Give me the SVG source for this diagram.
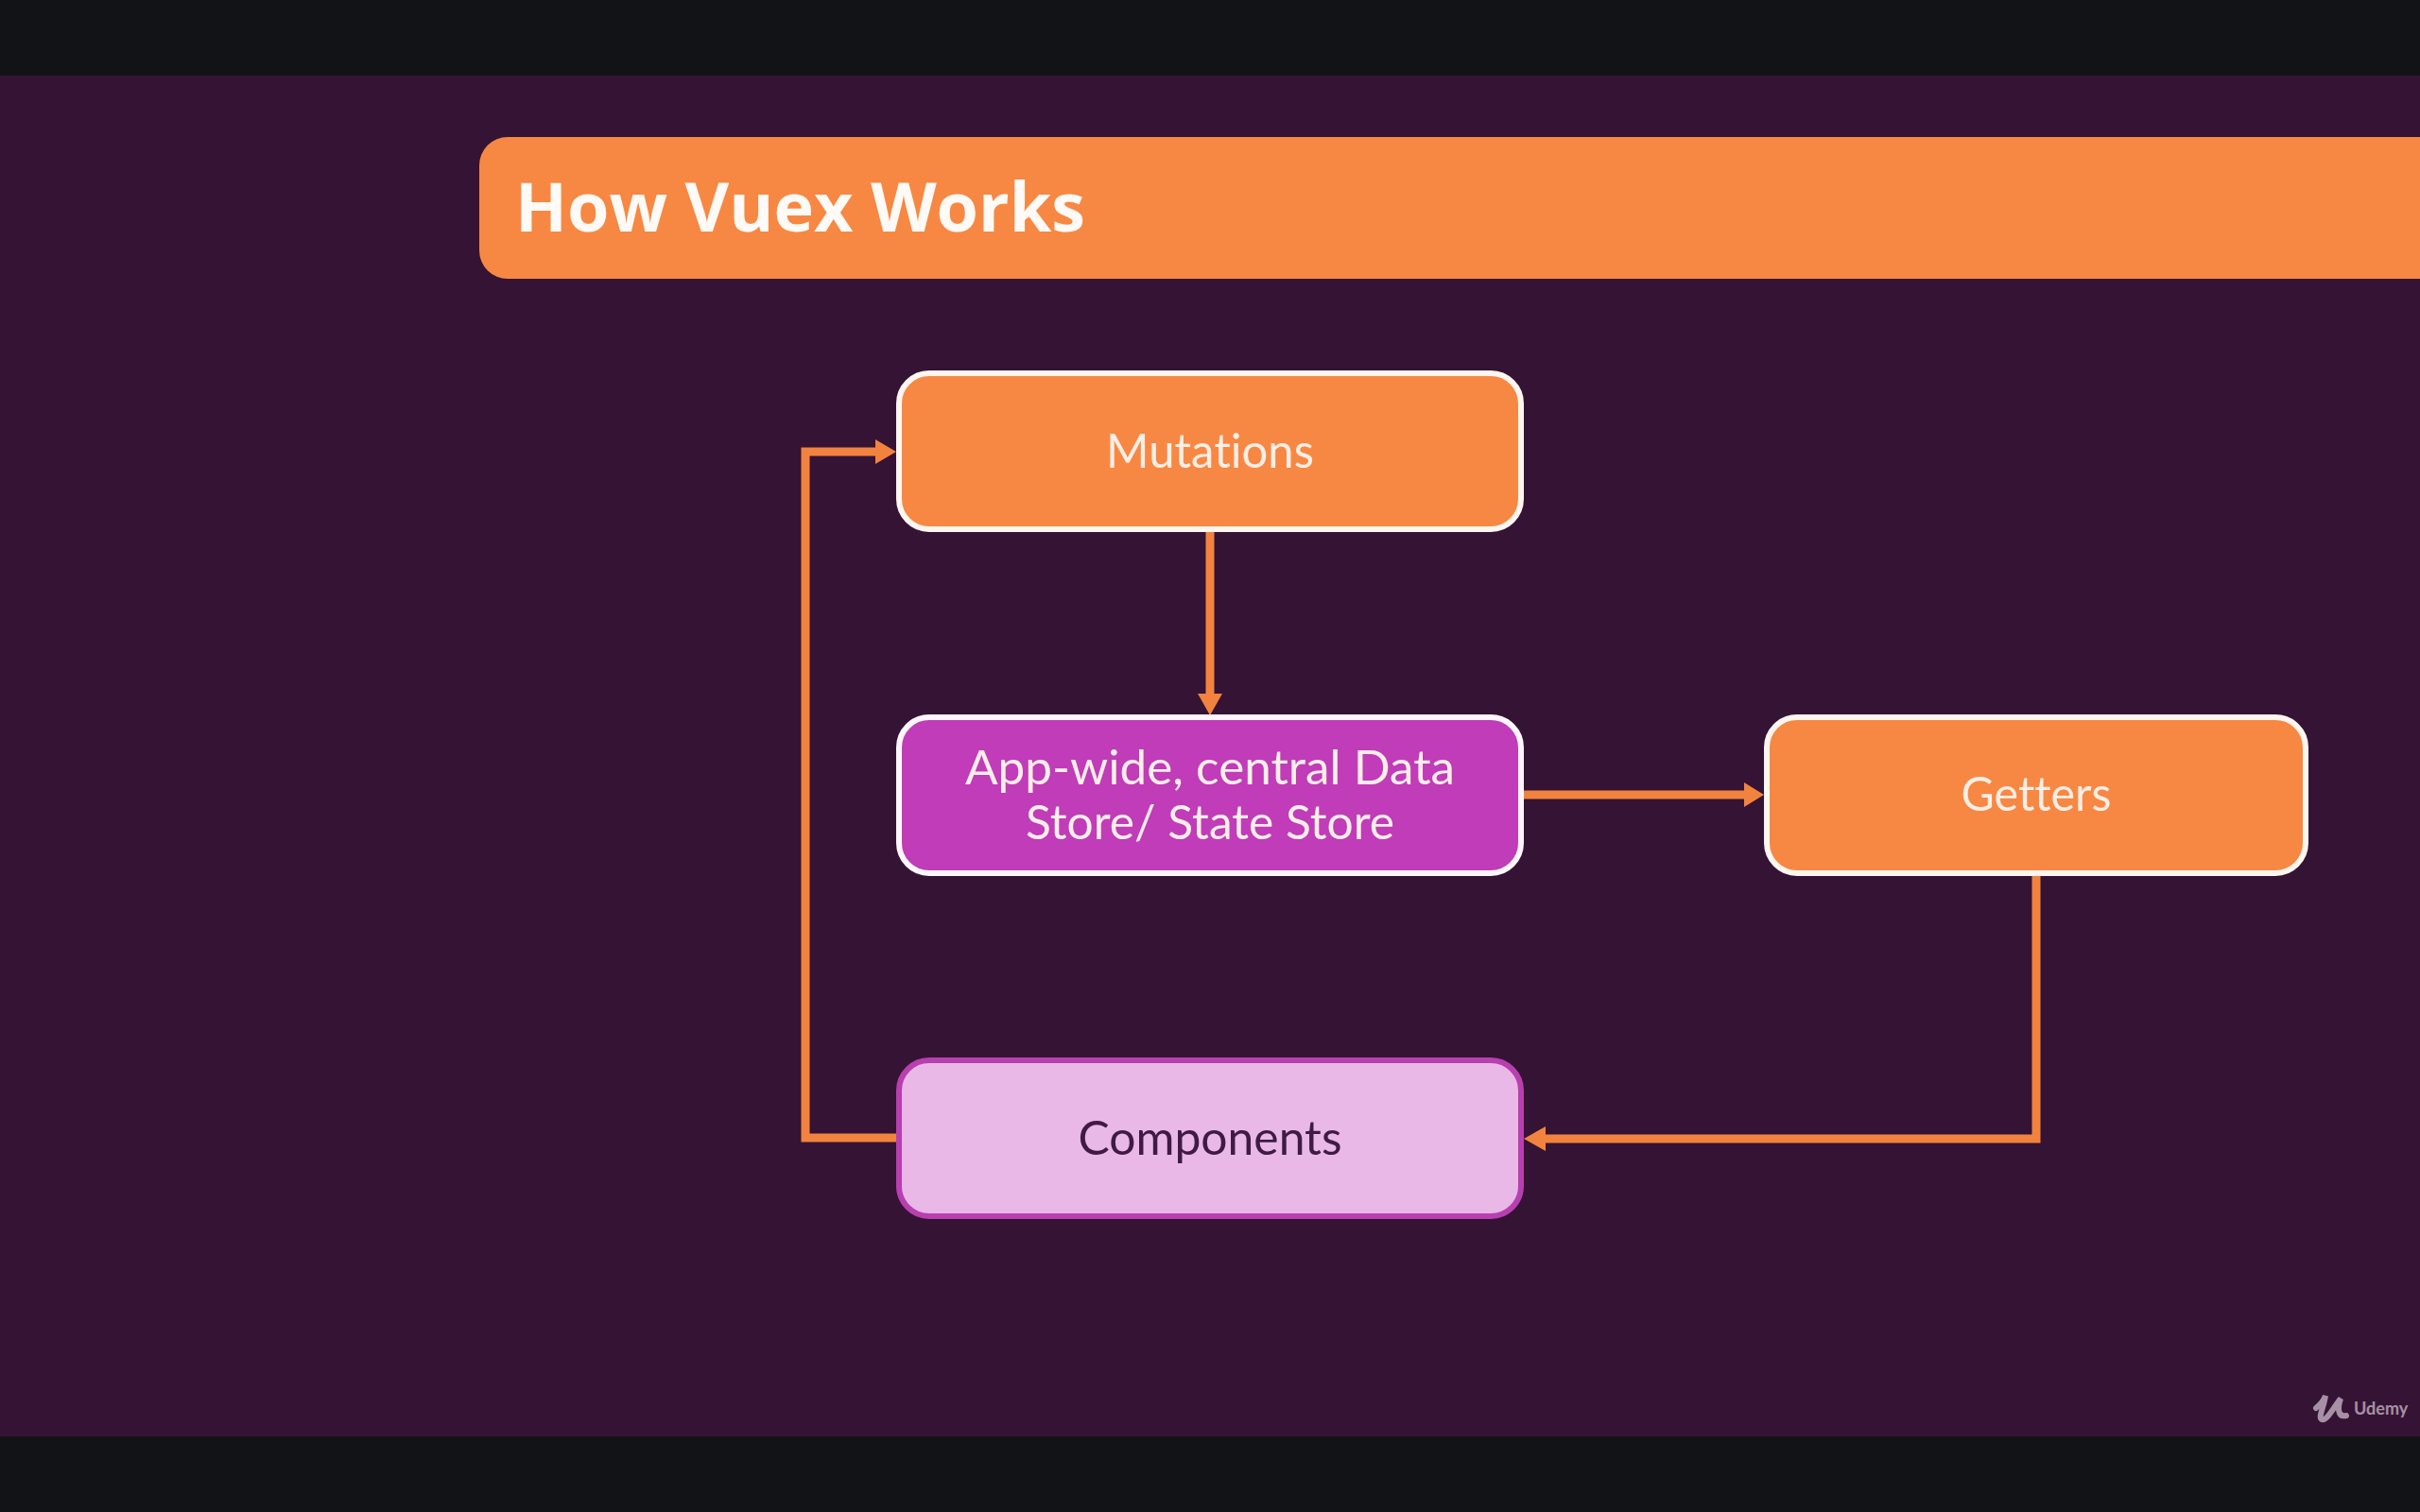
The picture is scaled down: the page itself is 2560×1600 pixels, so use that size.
<svg xmlns="http://www.w3.org/2000/svg" width="2560" height="1600" viewBox="0 0 2560 1600">
<defs>
<style>
.box{stroke-width:6}
.t{font-family:"Lato","Noto Sans",sans-serif;font-size:50px;text-anchor:middle;fill:#fdeee6;font-variant-ligatures:none}
.c{fill:none;stroke:#f2833f;stroke-width:9;stroke-linejoin:miter}
.h{fill:#f2833f}
</style>
</defs>
<rect x="0" y="0" width="2560" height="1600" fill="#111316"/>
<rect x="0" y="80" width="2560" height="1440" fill="#351334"/>
<g id="title">
<rect x="507" y="145" width="2100" height="150" rx="30" fill="#f78843"/>
<text x="545" y="245" font-family="Open Sans, Noto Sans, sans-serif" font-weight="700" font-size="72" fill="#fffaf6" textLength="603" lengthAdjust="spacingAndGlyphs">How Vuex Works</text>
</g>
<g id="connectors">
<path class="c" d="M949 1204H852V478H930"/>
<path class="h" d="M948 478L926 465V491Z"/>
<path class="c" d="M1280 560V738"/>
<path class="h" d="M1280 757L1267 734H1293Z"/>
<path class="c" d="M1610 841H1850"/>
<path class="h" d="M1866 841L1845 828V854Z"/>
<path class="c" d="M2154 925V1205H1630"/>
<path class="h" d="M1612 1205L1635 1192V1218Z"/>
</g>
<g id="mutations">
<rect class="box" x="951" y="395" width="658" height="165" rx="32" fill="#f78843" stroke="#fff6f0"/>
<text class="t" x="1280" y="495" textLength="220" lengthAdjust="spacingAndGlyphs">Mutations</text>
</g>
<g id="store">
<rect class="box" x="951" y="759" width="658" height="165" rx="32" fill="#c03cb8" stroke="#fff6fb"/>
<text class="t" x="1280" y="830" textLength="518" lengthAdjust="spacingAndGlyphs">App-wide, central Data</text>
<text class="t" x="1280" y="888" textLength="390" lengthAdjust="spacingAndGlyphs">Store/ State Store</text>
</g>
<g id="getters">
<rect class="box" x="1869" y="759" width="570" height="165" rx="32" fill="#f78843" stroke="#fff6f0"/>
<text class="t" x="2154" y="858" textLength="159" lengthAdjust="spacingAndGlyphs">Getters</text>
</g>
<g id="components">
<rect class="box" x="951" y="1122" width="658" height="165" rx="32" fill="#e9b8e6" stroke="#b83fb0"/>
<text class="t" x="1280" y="1222" textLength="279" lengthAdjust="spacingAndGlyphs" style="fill:#3f1a45">Components</text>
</g>
<g id="udemy" opacity="0.6">
<path d="M2450 1490C2456 1485 2459 1480 2460 1477C2458 1490 2452 1500 2456 1502C2462 1504 2472 1484 2476 1480C2472 1492 2474 1500 2482 1498" fill="none" stroke="#f2e3f0" stroke-width="6" stroke-linecap="round"/>
<text x="2490" y="1497" font-family="Lato, Noto Sans, sans-serif" font-weight="700" font-size="18" fill="#f2e3f0">Udemy</text>
</g>
</svg>
